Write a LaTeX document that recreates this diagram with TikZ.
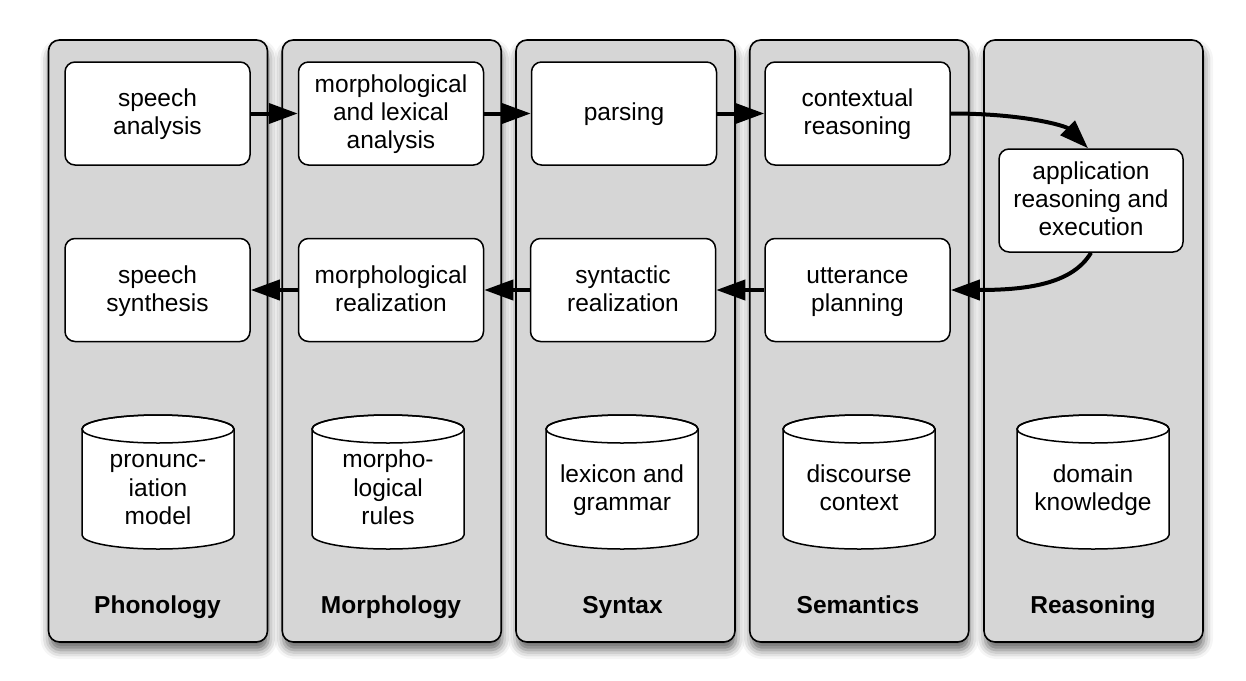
\documentclass[tikz,border=0pt]{standalone}
\usepackage{fontspec}
\setmainfont{Liberation Sans}
\usetikzlibrary{arrows.meta,shadows.blur}
\definecolor{lanegray}{HTML}{D6D6D6}
\newcommand\dbcyl[4]{% name, x, lines style, text
  \path[draw=black, line width=1.5pt, fill=white]
    (#2-76,429) -- (#2-76,535)
    arc[start angle=180, end angle=360, x radius=76pt, y radius=14pt]
    -- (#2+76,429)
    arc[start angle=0, end angle=180, x radius=76pt, y radius=14pt] -- cycle;
  \draw[line width=1.5pt] (#2,429) ellipse [x radius=76pt, y radius=14pt];
  \node[cyltext, #3] (#1) at (#2,489) {#4};
}
\begin{document}
\begin{tikzpicture}[x=1pt,y=-1pt,
  lane/.style={draw=black, line width=1.6pt, fill=lanegray, rounded corners=11pt,
    minimum width=219pt, minimum height=602pt, inner sep=0pt,
    blur shadow={shadow xshift=1pt, shadow yshift=-8pt, shadow blur radius=9pt, shadow opacity=60}},
  box/.style={draw=black, fill=white, line width=1.5pt, rounded corners=10pt,
    minimum width=185pt, minimum height=103pt, inner sep=0pt, align=center,
    font=\fontsize{24.5}{28}\selectfont},
  cyltext/.style={align=center, inner sep=0pt, font=\fontsize{24.5}{28.5}\selectfont},
  oneline/.style={text height=14.9pt, text depth=0pt},
  twolines/.style={text height=42.9pt, text depth=0pt},
  threelines/.style={text height=70.9pt, text depth=0pt},
  threelinescyl/.style={text height=71.9pt, text depth=0pt},
  twolinescyl/.style={text height=43.4pt, text depth=0pt},
  lanetitle/.style={inner sep=0pt, anchor=base, font=\bfseries\fontsize{24.5}{28.5}\selectfont},
  flow/.style={line width=4pt, -{Triangle[length=29pt,width=20pt]}}]
\useasboundingbox (0,0) rectangle (1246,680);

% lanes
\node[lane] (L1) at (158,341) {};
\node[lane] (L2) at (391.75,341) {};
\node[lane] (L3) at (625.5,341) {};
\node[lane] (L4) at (859.25,341) {};
\node[lane] (L5) at (1093.5,341) {};

% process boxes
\node[box, twolines]   (sa)  at (157.5,113.5) {speech\\analysis};
\node[box, threelines] (mla) at (391,113.5) {morphological\\and lexical\\analysis};
\node[box, oneline]    (par) at (624,113.5) {parsing};
\node[box, twolines]   (ctx) at (857.5,113.5) {contextual\\reasoning};
\node[box, threelines, minimum width=184pt] (app) at (1091,200.5) {application\\reasoning and\\execution};
\node[box, twolines]   (ss)  at (157.5,290) {speech\\synthesis};
\node[box, twolines]   (mr)  at (391,290) {morphological\\realization};
\node[box, twolines]   (sr)  at (623,290) {syntactic\\realization};
\node[box, twolines]   (up)  at (857.5,290) {utterance\\planning};

% data stores
\dbcyl{d1}{158}{threelinescyl}{pronunc-\\iation\\model}
\dbcyl{d2}{388}{threelinescyl}{morpho-\\logical\\rules}
\dbcyl{d3}{622}{twolinescyl}{lexicon and\\grammar}
\dbcyl{d4}{859}{twolinescyl}{discourse\\context}
\dbcyl{d5}{1093}{twolinescyl}{domain\\knowledge}

% lane titles
\node[lanetitle] (t1) at (157.5,613.5) {Phonology};
\node[lanetitle] (t2) at (391,613.5) {Morphology};
\node[lanetitle] (t3) at (622.5,613.5) {Syntax};
\node[lanetitle] (t4) at (858,613.5) {Semantics};
\node[lanetitle] (t5) at (1093,613.5) {Reasoning};

% flows
\draw[flow] (sa) -- (mla);
\draw[flow] (mla) -- (par);
\draw[flow] (par) -- (ctx);
\draw[flow] (ctx.east) .. controls +(75,0) and +(-22,-22) .. ([xshift=-3pt]app.north);
\draw[flow] (app.south) .. controls +(-18,30) and +(80,0) .. (up.east);
\draw[flow] (up) -- (sr);
\draw[flow] (sr) -- (mr);
\draw[flow] (mr) -- (ss);
\end{tikzpicture}
\end{document}
